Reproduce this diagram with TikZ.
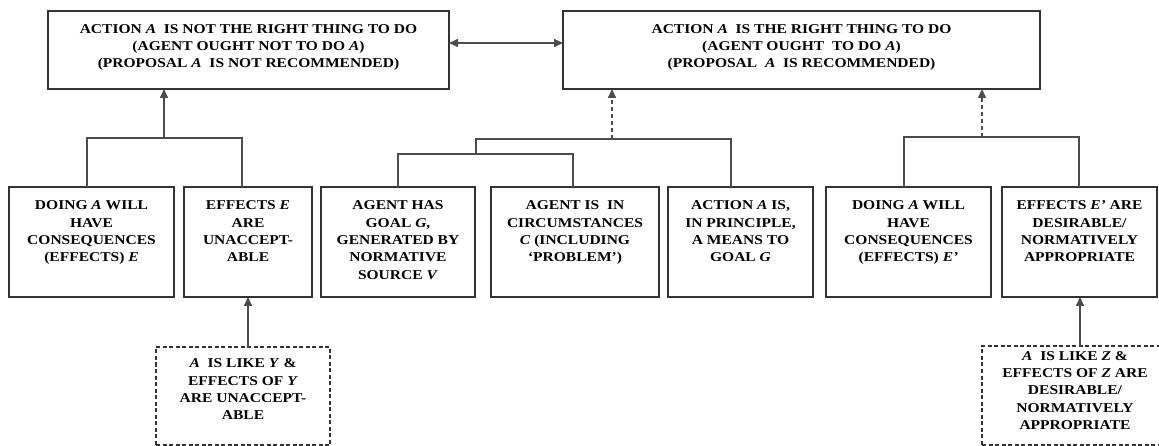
\documentclass[tikz,border=0pt]{standalone}
\usepackage{fontspec}
\setmainfont{Liberation Serif}[FakeStretch=1.15]
\usepackage{xcolor}
\usepackage{tikz}
\usetikzlibrary{calc,arrows.meta,positioning}

% text block pinned to the top of a box of fixed size
\newcommand{\boxtext}[4][10.5pt]{\parbox[c][#3][t]{#2}{\centering\fontsize{13.5}{17.4}\selectfont\bfseries\vspace*{#1}\strut#4}}

\begin{document}
\begin{tikzpicture}[x=1pt, y=-1pt,
        claim/.style={draw=black!80, line width=1.3pt, inner sep=0pt, outer sep=0pt},
        premise/.style={draw=black!80, line width=1.3pt, inner sep=0pt, outer sep=0pt},
        analogy/.style={draw=black!80, line width=1.1pt, dash pattern=on 4pt off 2.5pt, inner sep=0pt, outer sep=0pt},
        link/.style={draw=black!70, line width=1.6pt},
        weak/.style={link, dash pattern=on 4pt off 3pt},
        >={Triangle[length=9pt,width=8pt]}
    ]
        \useasboundingbox (0,0) rectangle (1159,446);

        % conclusions
        \node[claim] (notright) at (248.5,50) {\boxtext[10pt]{401pt}{78pt}{ACTION \textit{A}\ \ IS NOT THE RIGHT THING TO DO\\(AGENT OUGHT NOT TO DO \textit{A})\\(PROPOSAL \textit{A}\ \ IS NOT RECOMMENDED)}};
        \node[claim] (right) at (801.5,50) {\boxtext[10pt]{477pt}{78pt}{ACTION \textit{A}\ \ IS THE RIGHT THING TO DO\\(AGENT OUGHT\ \ TO DO \textit{A})\\(PROPOSAL\ \ \textit{A}\ \ IS RECOMMENDED)}};

        % premises
        \node[premise] (doing) at (91.5,242) {\boxtext{165pt}{110pt}{DOING \textit{A}\ WILL\\HAVE\\CONSEQUENCES\\(EFFECTS) \textit{E}}};
        \node[premise, right=10pt of doing] (unacc) {\boxtext{128pt}{110pt}{EFFECTS \textit{E}\\ARE\\UNACCEPT-\\ABLE}};
        \node[premise, right=9pt of unacc] (goal) {\boxtext{154pt}{110pt}{AGENT HAS\\GOAL \textit{G},\\GENERATED BY\\NORMATIVE\\SOURCE \textit{V}}};
        \node[premise, right=16pt of goal] (circ) {\boxtext{168pt}{110pt}{AGENT IS\ \ IN\\CIRCUMSTANCES\\\textit{C} (INCLUDING\\`PROBLEM')}};
        \node[premise, right=9pt of circ] (means) {\boxtext{145pt}{110pt}{ACTION \textit{A} IS,\\IN PRINCIPLE,\\A MEANS TO\\GOAL \textit{G}}};
        \node[premise, right=13pt of means] (doing2) {\boxtext{165pt}{110pt}{DOING \textit{A} WILL\\HAVE\\CONSEQUENCES\\(EFFECTS) \textit{E'}}};
        \node[premise, right=11pt of doing2] (desir) {\boxtext{155pt}{110pt}{EFFECTS \textit{E'} ARE\\DESIRABLE/\\NORMATIVELY\\APPROPRIATE}};

        % analogies
        \node[analogy] (likey) at (243,396) {\boxtext[8.5pt]{174pt}{98pt}{\textit{A}\ \ IS LIKE \textit{Y} \&\\EFFECTS OF \textit{Y}\\ARE UNACCEPT-\\ABLE}};
        \node[analogy] (likez) at (1075,395.5) {\boxtext[2pt]{186pt}{99pt}{\textit{A}\ \ IS LIKE \textit{Z} \&\\EFFECTS OF \textit{Z} ARE\\DESIRABLE/\\NORMATIVELY\\APPROPRIATE}};

        % junctions
        \coordinate (nj) at (164,138);
        \coordinate (nja) at (87,138);
        \coordinate (njb) at (242,138);
        \coordinate (rj) at (612,139);
        \coordinate (rja) at (476,139);
        \coordinate (rjb) at (731,139);
        \coordinate (gja) at (398,154);
        \coordinate (gjb) at (573,154);
        \coordinate (ej) at (982,137);
        \coordinate (eja) at (904,137);
        \coordinate (ejb) at (1079,137);
        \coordinate (zj) at (1080,346);

        \draw[link, <->] ([yshift=7pt]notright.east) -- ([yshift=7pt]right.west);

        \draw[link, ->] (nj) -- (nj |- notright.south);
        \draw[link] (nja |- doing.north) |- (njb) -- (njb |- unacc.north);

        \draw[weak, ->] (rj) -- (rj |- right.south);
        \draw[link] (rjb |- means.north) |- (rja) -- (rja |- gja);
        \draw[link] (gja |- goal.north) |- (gjb) -- (gjb |- circ.north);

        \draw[weak, ->] (ej) -- (ej |- right.south);
        \draw[link] (eja |- doing2.north) |- (ejb) -- (ejb |- desir.north);

        \draw[link, ->] (likey.north -| unacc.south) -- (unacc.south);
        \draw[link, ->] (zj |- likez.north) -- (zj |- desir.south);
    \end{tikzpicture}
\end{document}
